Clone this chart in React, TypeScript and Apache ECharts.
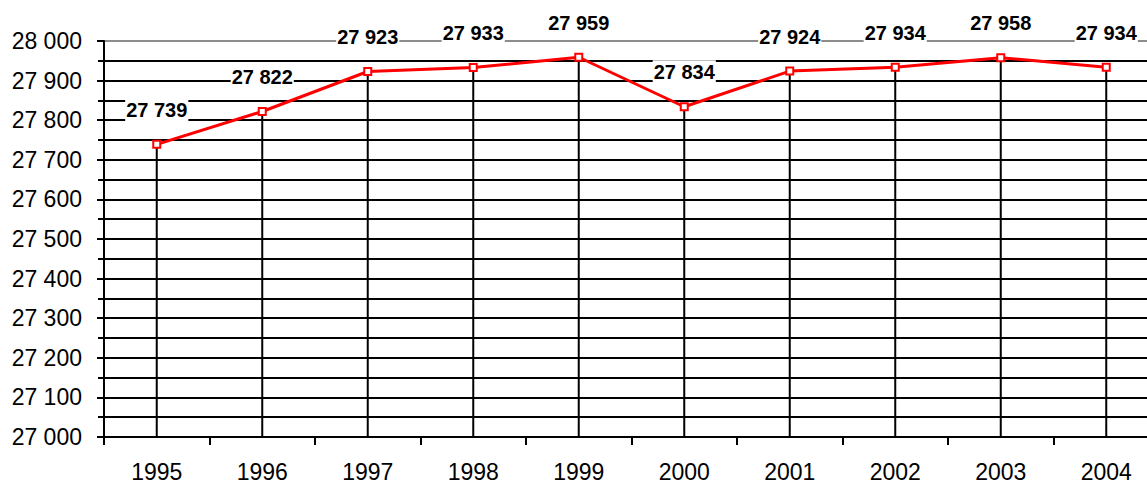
import React, { useEffect, useRef } from "react";
import * as echarts from "echarts";

const years = ["1995", "1996", "1997", "1998", "1999", "2000", "2001", "2002", "2003", "2004"];
const population = [27739, 27822, 27923, 27933, 27959, 27834, 27924, 27934, 27958, 27934];
const Y_MIN = 27000;
const Y_MAX = 28000;
const Y_STEP = 100;

const FONT = "'Liberation Sans', Arial, sans-serif";

const fmt = (v: number) => {
  const th = Math.floor(v / 1000);
  const rest = String(Math.round(v % 1000)).padStart(3, "0");
  return `${th} ${rest}`;
};

export default function App() {
  const ref = useRef<HTMLDivElement>(null);

  useEffect(() => {
    if (!ref.current) return;
    const chart = echarts.init(ref.current, null, { renderer: "svg" });
    const nLines = (Y_MAX - Y_MIN) / Y_STEP + 1;
    const splitColors = Array.from({ length: nLines }, (_, i) => (i === nLines - 1 ? "#8c8c8c" : "#000"));
    chart.setOption({
      animation: false,
      backgroundColor: "#fff",
      grid: { left: 104, width: 1055, top: 41, bottom: 47, containLabel: false, outerBoundsMode: "none" },
      xAxis: {
        type: "category",
        data: years,
        boundaryGap: true,
        axisLine: { show: true, lineStyle: { color: "#000", width: 2 } },
        axisTick: { show: true, length: 8, interval: 0, lineStyle: { color: "#000", width: 2 } },
        axisLabel: { color: "#000", fontSize: 23, fontFamily: FONT, margin: 23, interval: 0 },
        splitLine: { show: false },
      },
      yAxis: {
        type: "value",
        min: Y_MIN,
        max: Y_MAX,
        interval: Y_STEP,
        axisLine: { show: true, lineStyle: { color: "#000", width: 2 } },
        axisTick: { show: true, length: 7, lineStyle: { color: "#000", width: 2 } },
        minorTick: { show: true, splitNumber: 2, length: 6, lineStyle: { color: "#000", width: 2 } },
        axisLabel: { color: "#000", fontSize: 23, fontFamily: FONT, margin: 22, formatter: (v: number) => fmt(v) },
        splitLine: { show: true, lineStyle: { color: splitColors, width: 2 } },
        minorSplitLine: { show: true, lineStyle: { color: "#000", width: 2 } },
      },
      series: [
        {
          type: "custom",
          z: 1,
          silent: true,
          clip: false,
          data: population.map((v, i) => [i, v]),
          renderItem: (params: any, api: any) => {
            const top = api.coord([api.value(0), api.value(1)]);
            const bottom = api.coord([api.value(0), Y_MIN]);
            return {
              type: "line",
              shape: { x1: top[0], y1: top[1], x2: bottom[0], y2: bottom[1] },
              style: { stroke: "#000", lineWidth: 2 },
            };
          },
        },
        {
          type: "line",
          z: 3,
          data: population,
          symbol: "emptyRect",
          symbolSize: 7,
          lineStyle: { color: "#ff0000", width: 3 },
          itemStyle: { color: "#ff0000", borderColor: "#ff0000", borderWidth: 1.5 },
          label: {
            show: true,
            position: "top",
            distance: 18,
            color: "#000",
            fontSize: 20,
            fontWeight: "bold",
            fontFamily: FONT,
            backgroundColor: "#fff",
            padding: [2, 1, 2, 1],
            formatter: (p: any) => fmt(p.value),
          },
        },
      ],
    });
    return () => chart.dispose();
  }, []);

  return (
    <div
      ref={ref}
      style={{ position: "absolute", left: 0, top: 0, width: 1147, height: 484, background: "#fff", overflow: "hidden" }}
    />
  );
}
